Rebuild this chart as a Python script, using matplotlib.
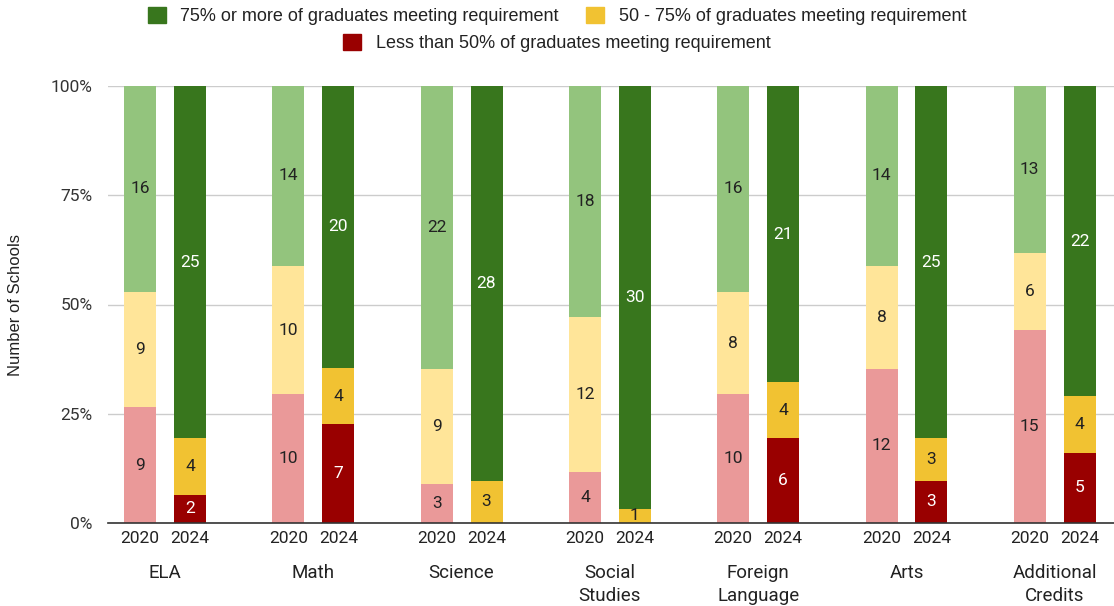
import matplotlib
matplotlib.use("Agg")
import matplotlib.pyplot as plt
import matplotlib.transforms as mtransforms
from matplotlib.patches import Patch
import numpy as np

plt.rcParams['font.family'] = ['Roboto', 'DejaVu Sans']

subjects = ["ELA", "Math", "Science", "Social\nStudies", "Foreign\nLanguage", "Arts", "Additional\nCredits"]
years = ["2020", "2024"]

# counts: [less than 50%, 50-75%, 75%+]
low_2020 = [9, 10, 3, 4, 10, 12, 15]
mid_2020 = [9, 10, 9, 12, 8, 8, 6]
high_2020 = [16, 14, 22, 18, 16, 14, 13]
low_2024 = [2, 7, 0, 0, 6, 3, 5]
mid_2024 = [4, 4, 3, 1, 4, 3, 4]
high_2024 = [25, 20, 28, 30, 21, 25, 22]

legend_labels = ["75% or more of graduates meeting requirement",
                 "50 - 75% of graduates meeting requirement",
                 "Less than 50% of graduates meeting requirement"]

dark = {"high": "#38761d", "mid": "#f1c232", "low": "#990000"}
light = {"high": "#93c47d", "mid": "#ffe599", "low": "#ea9999"}

fig = plt.figure(figsize=(11.14, 6.06), dpi=100)
ax = fig.add_axes([108/1114, 1 - 523/606, (1114 - 108)/1114, (523 - 86)/606])

n = len(subjects)
x = np.arange(n)
offset = 0.168
width = 0.216

def draw(pos, low, mid, high, colors, text_colors):
    low = np.array(low, float); mid = np.array(mid, float); high = np.array(high, float)
    tot = low + mid + high
    segs = [(low, "low"), (mid, "mid"), (high, "high")]
    bottom = np.zeros(n)
    for vals, key in segs:
        pct = vals / tot * 100
        ax.bar(pos, pct, width, bottom=bottom, color=colors[key], zorder=2, linewidth=0)
        for i in range(n):
            if vals[i] > 0:
                ax.text(pos[i], bottom[i] + pct[i] / 2, f"{int(vals[i])}", ha='center', va='center',
                        fontsize=12.5, color=text_colors[key], zorder=5)
        bottom = bottom + pct

draw(x - offset, low_2020, mid_2020, high_2020, light,
     {"low": "#222222", "mid": "#222222", "high": "#222222"})
draw(x + offset, low_2024, mid_2024, high_2024, dark,
     {"low": "white", "mid": "#222222", "high": "white"})

ax.set_ylim(0, 100)
ax.set_xlim(-0.385, n - 1 + 0.40)
ax.set_yticks([0, 25, 50, 75, 100])
ax.set_yticklabels(["0%", "25%", "50%", "75%", "100%"], fontsize=12.5, color="#333333")
ax.yaxis.grid(True, color="#cccccc", linewidth=1, zorder=0)
ax.set_axisbelow(True)
for s in ["top", "right", "left"]:
    ax.spines[s].set_visible(False)
ax.spines["bottom"].set_color("#333333")
ax.spines["bottom"].set_linewidth(1.2)
ax.spines["bottom"].set_zorder(4)
ax.tick_params(axis='both', length=0)
ax.tick_params(axis='y', pad=11)

xt = np.concatenate([x - offset, x + offset])
xl = [years[0]] * n + [years[1]] * n
ax.set_xticks(xt)
ax.set_xticklabels(xl, fontsize=12.5, color="#222222")
ax.tick_params(axis='x', pad=6)

trans = mtransforms.blended_transform_factory(ax.transData, ax.transAxes)
for i, s in enumerate(subjects):
    ax.text(x[i], -0.094, s, transform=trans, ha='center', va='top', fontsize=13.5,
            color="#222222", linespacing=1.36)

ax.set_ylabel("Number of Schools", fontsize=12, color="#222222",
              family=['Liberation Sans', 'DejaVu Sans'])
ax.yaxis.set_label_coords(-0.084, 0.5)

lfont = {'family': ['Liberation Sans', 'DejaVu Sans'], 'size': 13}
h1 = [Patch(color=dark["high"]), Patch(color=dark["mid"])]
fig.legend(h1, legend_labels[:2], loc='center', bbox_to_anchor=(0.5, 1 - 16/606), ncol=2,
           frameon=False, prop=lfont, handlelength=1.0, handleheight=1.0, handletextpad=0.8,
           columnspacing=1.5, labelcolor="#222222")
h2 = [Patch(color=dark["low"])]
fig.legend(h2, legend_labels[2:], loc='center', bbox_to_anchor=(0.5, 1 - 43/606), ncol=1,
           frameon=False, prop=lfont, handlelength=1.0, handleheight=1.0, handletextpad=0.8,
           labelcolor="#222222")

fig.savefig("out.png", dpi=100)
